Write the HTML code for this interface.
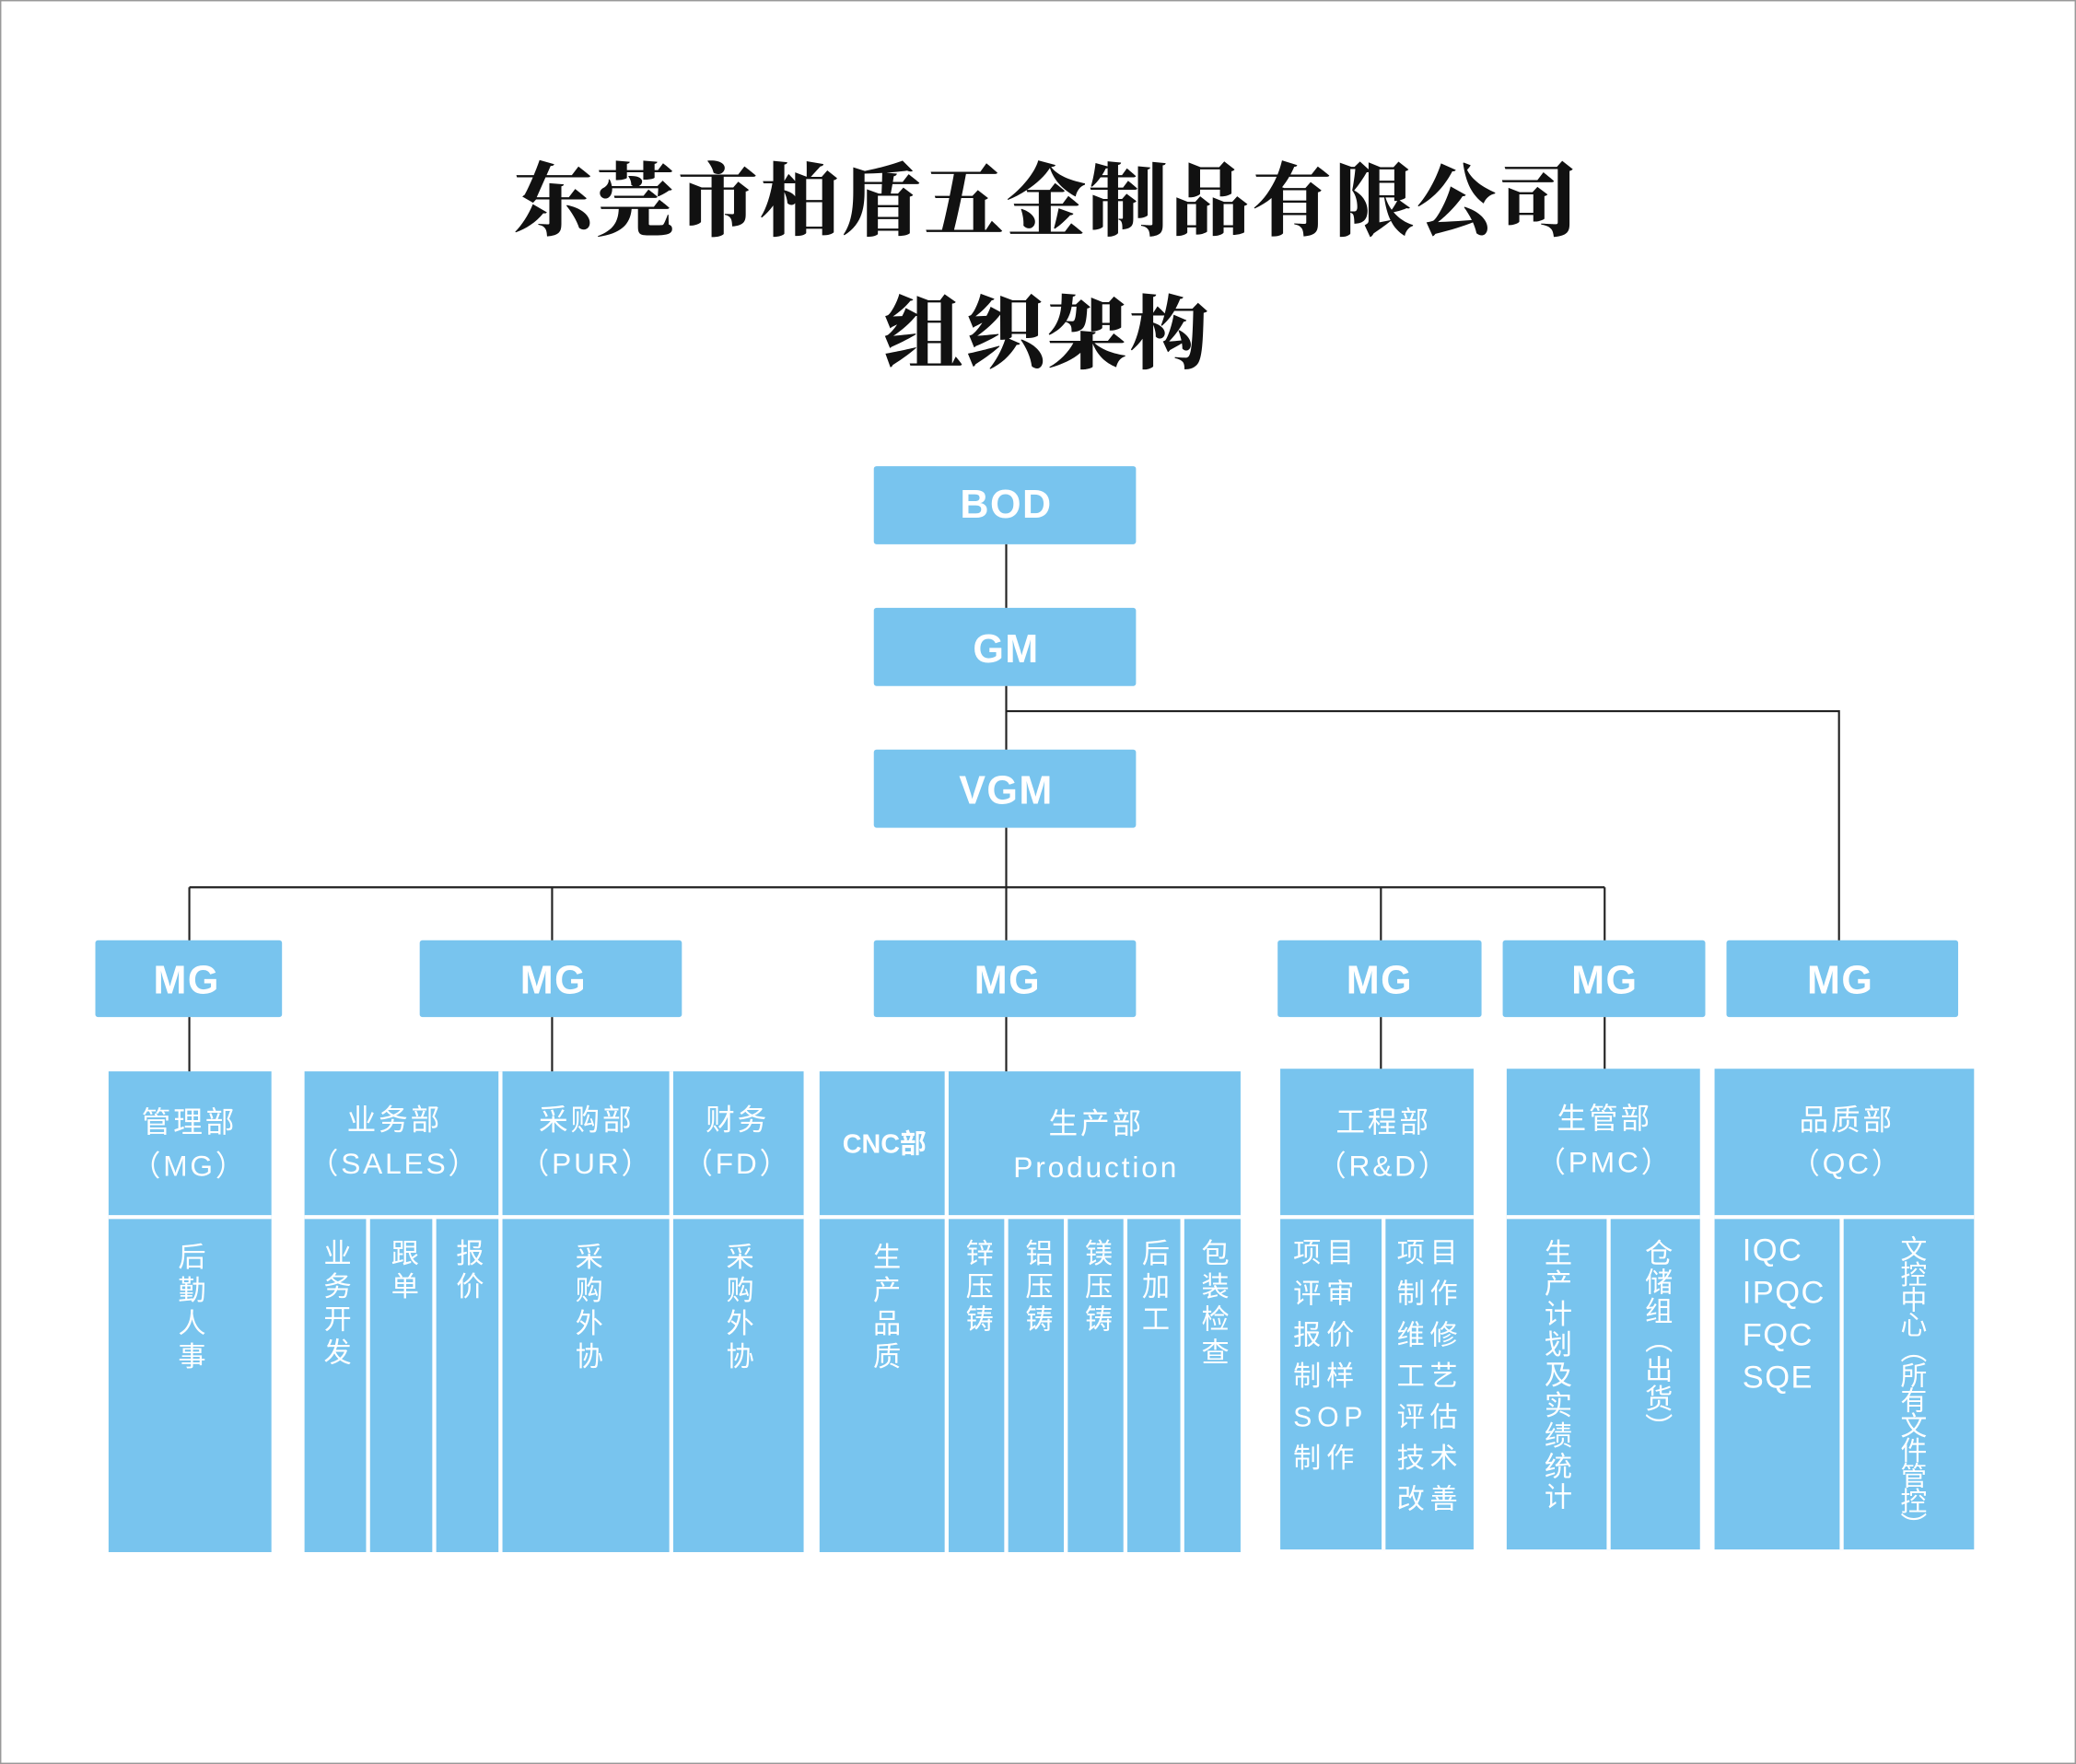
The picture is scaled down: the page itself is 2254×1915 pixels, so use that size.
<!DOCTYPE html>
<html><head><meta charset="utf-8"><style>
html,body{margin:0;padding:0;background:#fff;}
#w{position:absolute;left:0;top:0;width:1568px;height:1332px;transform:scale(1.4375,1.4377);transform-origin:0 0;overflow:hidden;}
svg{position:absolute;left:0;top:0;}
.t{position:absolute;color:#fff;font-family:"Liberation Sans","Noto Sans CJK SC",sans-serif;white-space:nowrap;}
.h{font-size:22px;letter-spacing:2px;text-align:center;line-height:33px;transform:translateX(-50%);}
.v{writing-mode:vertical-rl;font-size:21px;line-height:22px;letter-spacing:4px;transform:translateX(-50%);}
.b{font-weight:bold;font-size:30px;letter-spacing:1px;text-align:center;transform:translate(-50%,-50%);}
.title{position:absolute;left:7px;width:1568px;text-align:center;font-family:"Noto Serif CJK SC",serif;font-weight:900;font-size:60px;color:#111;letter-spacing:2px;}
.r{font-size:21px;line-height:31px;letter-spacing:4px;transform:translateX(-50%);}
</style></head><body><div id="w">
<svg width="1568" height="1332" viewBox="0 0 1568 1332">
<rect x="0.5" y="0.5" width="1567" height="1331" fill="none" stroke="#999" stroke-width="1"/>
<g fill="#78C4EE">
<rect x="660" y="352" width="198" height="59" rx="2"/>
<rect x="660" y="459" width="198" height="59" rx="2"/>
<rect x="660" y="566" width="198" height="59" rx="2"/>
<rect x="72" y="710" width="141" height="58" rx="2"/>
<rect x="317" y="710" width="198" height="58" rx="2"/>
<rect x="660" y="710" width="198" height="58" rx="2"/>
<rect x="965" y="710" width="154" height="58" rx="2"/>
<rect x="1135" y="710" width="153" height="58" rx="2"/>
<rect x="1304" y="710" width="175" height="58" rx="2"/>
<rect x="82" y="809" width="123" height="363"/>
<rect x="230" y="809" width="377" height="363"/>
<rect x="619" y="809" width="318" height="363"/>
<rect x="967" y="807" width="146" height="363"/>
<rect x="1138" y="807" width="146" height="363"/>
<rect x="1295" y="807" width="196" height="363"/>
</g>
<g stroke="#fff" stroke-width="3">
<line x1="82" y1="919" x2="205" y2="919"/>
<line x1="230" y1="919" x2="607" y2="919"/>
<line x1="619" y1="919" x2="937" y2="919"/>
<line x1="967" y1="919" x2="1113" y2="919"/>
<line x1="1138" y1="919" x2="1284" y2="919"/>
<line x1="1295" y1="919" x2="1491" y2="919"/>
<line x1="378" y1="809" x2="378" y2="1172"/>
<line x1="507" y1="809" x2="507" y2="1172"/>
<line x1="278" y1="919" x2="278" y2="1172"/>
<line x1="328" y1="919" x2="328" y2="1172"/>
<line x1="715" y1="809" x2="715" y2="1172"/>
<line x1="760" y1="919" x2="760" y2="1172"/>
<line x1="805" y1="919" x2="805" y2="1172"/>
<line x1="850" y1="919" x2="850" y2="1172"/>
<line x1="893" y1="919" x2="893" y2="1172"/>
<line x1="1045" y1="919" x2="1045" y2="1170"/>
<line x1="1215" y1="919" x2="1215" y2="1170"/>
<line x1="1391" y1="919" x2="1391" y2="1170"/>
</g>
<g stroke="#222" stroke-width="1.5" fill="none">
<line x1="760" y1="411" x2="760" y2="459"/>
<line x1="760" y1="518" x2="760" y2="566"/>
<line x1="760" y1="625" x2="760" y2="710"/>
<polyline points="760,537 1389,537 1389,710"/>
<line x1="143" y1="670" x2="1212" y2="670"/>
<line x1="143" y1="670" x2="143" y2="710"/>
<line x1="417" y1="670" x2="417" y2="710"/>
<line x1="1043" y1="670" x2="1043" y2="710"/>
<line x1="1212" y1="670" x2="1212" y2="710"/>
<line x1="143" y1="768" x2="143" y2="809"/>
<line x1="417" y1="768" x2="417" y2="809"/>
<line x1="760" y1="768" x2="760" y2="809"/>
<line x1="1043" y1="768" x2="1043" y2="807"/>
<line x1="1212" y1="768" x2="1212" y2="807"/>
</g>
</svg>
<div class="title" style="top:105px">东莞市柏盾五金制品有限公司</div>
<div class="title" style="top:205px">组织架构</div>

<div class="t b" style="left:760px;top:382px">BOD</div>
<div class="t b" style="left:760px;top:491px">GM</div>
<div class="t b" style="left:760px;top:598px">VGM</div>
<div class="t b" style="left:141px;top:741px">MG</div>
<div class="t b" style="left:418px;top:741px">MG</div>
<div class="t b" style="left:761px;top:741px">MG</div>
<div class="t b" style="left:1042px;top:741px">MG</div>
<div class="t b" style="left:1212px;top:741px">MG</div>
<div class="t b" style="left:1390px;top:741px">MG</div>

<div class="t h" style="left:143px;top:831px">管理部<br>（MG）</div>
<div class="t h" style="left:298px;top:829px">业务部<br>（SALES）</div>
<div class="t h" style="left:443px;top:829px">采购部<br>（PUR）</div>
<div class="t h" style="left:557px;top:829px">财务<br>（FD）</div>
<div class="t" style="left:668px;top:862px;transform:translate(-50%,-50%);font-weight:bold;font-size:20px;">CNC部</div>
<div class="t h" style="left:828px;top:832px">生产部<br>Production</div>
<div class="t h" style="left:1045px;top:831px">工程部<br>（R&amp;D）</div>
<div class="t h" style="left:1212px;top:828px">生管部<br>（PMC）</div>
<div class="t h" style="left:1395px;top:829px">品质部<br>（QC）</div>

<div class="t v" style="left:143px;top:938px">后勤人事</div>
<div class="t v" style="left:253px;top:935px">业务开发</div>
<div class="t v" style="left:304px;top:935px">跟单</div>
<div class="t v" style="left:353px;top:935px">报价</div>
<div class="t v" style="left:443px;top:938px">采购外协</div>
<div class="t v" style="left:557px;top:938px">采购外协</div>
<div class="t v" style="left:668px;top:938px">生产品质</div>
<div class="t v" style="left:738px;top:935px">锌压铸</div>
<div class="t v" style="left:783px;top:935px">铝压铸</div>
<div class="t v" style="left:828px;top:935px">镁压铸</div>
<div class="t v" style="left:871px;top:935px">后加工</div>
<div class="t v" style="left:916px;top:935px">包装检查</div>
<div class="t r" style="left:1005px;top:931px">项目<br>评审<br>报价<br>制样<br>SOP<br>制作</div>
<div class="t r" style="left:1080px;top:931px">项目<br>制作<br>维修<br>工艺<br>评估<br>技术<br>改善</div>
<div class="t v" style="left:1175px;top:935px;letter-spacing:2px">生产计划及实绩统计</div>
<div class="t v" style="left:1251px;top:935px;letter-spacing:1px">仓储组（出货）</div>
<div class="t" style="left:1316px;top:929px;font-size:24px;line-height:32px;letter-spacing:1px">IQC<br>IPQC<br>FQC<br>SQE</div>
<div class="t v" style="left:1443px;top:933px;font-size:20px;letter-spacing:-1px">文控中心（所有文件管控）</div>
</div></body></html>
